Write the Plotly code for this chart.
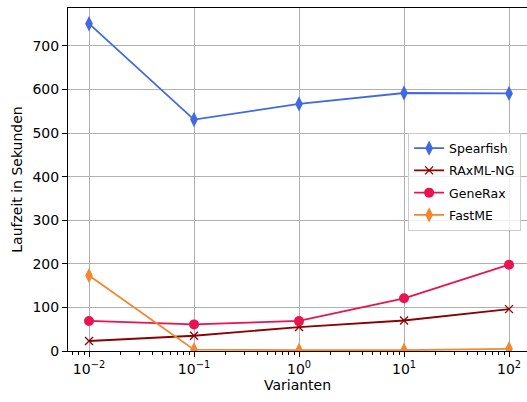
import plotly.graph_objects as go

x = [0.01, 0.1, 1, 10, 100]
spearfish = [751, 531, 567, 592, 591]
spearfish_err = [10, 8, 7, 7, 7]
raxml = [23, 35, 55, 70, 96]
generax = [69, 61, 69, 121, 198]
fastme = [173, 3, 2, 2, 5]
fastme_err = [10, 2, 1, 1, 2]

xtickvals = [0.01, 0.1, 1, 10, 100]
xticktext = ["10<sup>−2</sup>", "10<sup>−1</sup>", "10<sup>0</sup>", "10<sup>1</sup>", "10<sup>2</sup>"]

fig = go.Figure()
fig.add_trace(go.Scatter(x=x, y=spearfish, name="Spearfish", mode="lines+markers", legendgroup="a",
                         line=dict(color="#4169E1", width=1.8),
                         marker=dict(symbol="diamond-tall", size=11, color="#4169E1"),
                         error_y=dict(type="data", array=spearfish_err, color="#4169E1", thickness=1.5, width=0)))
fig.add_trace(go.Scatter(x=x, y=raxml, name="RAxML-NG", mode="lines+markers", legendgroup="b",
                         line=dict(color="#8B0000", width=1.8),
                         marker=dict(symbol="x-thin", size=8, color="#8B0000",
                                     line=dict(color="#8B0000", width=1.3))))
fig.add_trace(go.Scatter(x=x, y=generax, name="GeneRax", mode="lines+markers", legendgroup="c",
                         line=dict(color="#E8134F", width=1.8),
                         marker=dict(symbol="circle", size=10, color="#E8134F")))
fig.add_trace(go.Scatter(x=x, y=fastme, name="FastME", mode="lines+markers", legendgroup="d",
                         line=dict(color="#F5862E", width=1.8),
                         marker=dict(symbol="diamond-tall", size=11, color="#F5862E"),
                         error_y=dict(type="data", array=fastme_err, color="#F5862E", thickness=1.5, width=0)))

fig.update_layout(
    width=527, height=402,
    margin=dict(l=68, r=0, t=8, b=51, autoexpand=False),
    paper_bgcolor="white", plot_bgcolor="white",
    font=dict(family="DejaVu Sans", size=14, color="black"),
    showlegend=True,
    legend=dict(x=0.741, y=0.637, xanchor="left", yanchor="top",
                bgcolor="rgba(255,255,255,0.8)", bordercolor="#cccccc", borderwidth=1,
                font=dict(size=12.5), tracegroupgap=3, itemwidth=30),
)
fig.update_xaxes(type="log", range=[-2.2, 2.171], automargin=False,
                 tickvals=xtickvals, ticktext=xticktext,
                 showgrid=True, gridcolor="#b0b0b0", gridwidth=1,
                 showline=True, linecolor="black", linewidth=1, mirror=True,
                 ticks="outside", ticklen=5, tickcolor="black",
                 minor=dict(ticks="outside", ticklen=3, tickcolor="black", showgrid=False,
                            tickvals=[k * 10 ** e for e in range(-3, 3) for k in range(2, 10)]),
                 title=dict(text="Varianten", standoff=4, font=dict(size=14)),
                 zeroline=False)
fig.update_yaxes(range=[0, 787], dtick=100, automargin=False,
                 showgrid=True, gridcolor="#b0b0b0", gridwidth=1,
                 showline=True, linecolor="black", linewidth=1,
                 ticks="outside", ticklen=5, tickcolor="black",
                 title=dict(text="Laufzeit in Sekunden", standoff=6, font=dict(size=14)),
                 zeroline=False)

fig.write_html("out.html")
